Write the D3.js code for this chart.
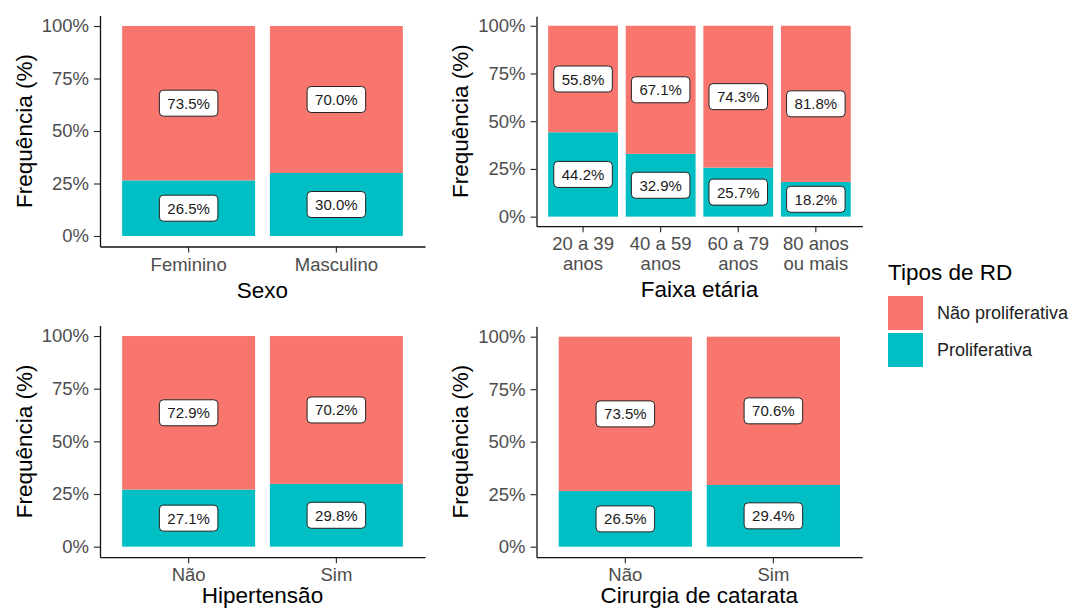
<!DOCTYPE html>
<html>
<head>
<meta charset="utf-8">
<script src="https://cdn.jsdelivr.net/npm/d3@7"></script>
<style>
  html, body { margin: 0; padding: 0; background: #fff; }
  svg { display: block; font-family: "Liberation Sans", Arial, sans-serif; }
</style>
</head>
<body>
<svg id="chart" width="1078" height="610"></svg>
<script>
// Proportions of diabetic retinopathy types by grouping variable
const seriesNames = ["Não proliferativa", "Proliferativa"];
const seriesColors = ["#F8766D", "#00BFC4"];
const yTicks = [0, 25, 50, 75, 100];

const sexoCats = ["Feminino", "Masculino"];
const sexoNaoProlif = [73.5, 70.0];
const sexoProlif = [26.5, 30.0];

const faixaCats = ["20 a 39|anos", "40 a 59|anos", "60 a 79|anos", "80 anos|ou mais"];
const faixaNaoProlif = [55.8, 67.1, 74.3, 81.8];
const faixaProlif = [44.2, 32.9, 25.7, 18.2];

const hipCats = ["Não", "Sim"];
const hipNaoProlif = [72.9, 70.2];
const hipProlif = [27.1, 29.8];

const catarataCats = ["Não", "Sim"];
const catarataNaoProlif = [73.5, 70.6];
const catarataProlif = [26.5, 29.4];

const svg = d3.select("#chart");

const panels = [
  { cats: sexoCats, nao: sexoNaoProlif, pro: sexoProlif, title: "Sexo",
    left: 100, right: 425, top: 15.5, bottom: 246.5, titleGap: 51 },
  { cats: faixaCats, nao: faixaNaoProlif, pro: faixaProlif, title: "Faixa etária",
    left: 536.5, right: 862.4, top: 16.2, bottom: 226.2, titleGap: 51 },
  { cats: hipCats, nao: hipNaoProlif, pro: hipProlif, title: "Hipertensão",
    left: 100, right: 425, top: 325.5, bottom: 557.2, titleGap: 46 },
  { cats: catarataCats, nao: catarataNaoProlif, pro: catarataProlif, title: "Cirurgia de catarata",
    left: 536.5, right: 862.2, top: 326.2, bottom: 557.2, titleGap: 46 }
];

function drawPanel(p) {
  const g = svg.append("g");
  const x = d3.scaleBand().domain(p.cats).range([p.left, p.right])
    .paddingInner(0.1).paddingOuter(0.15);
  const y = d3.scaleLinear().domain([-5, 105]).range([p.bottom, p.top]);

  // stacked segments: Proliferativa at bottom, Não proliferativa above
  const rows = p.cats.map((c, i) => ({ cat: c, pro: p.pro[i], nao: p.nao[i] }));
  const stack = d3.stack().keys(["pro", "nao"])(rows);
  const colorFor = { pro: seriesColors[1], nao: seriesColors[0] };

  stack.forEach(layer => {
    g.append("g").selectAll("rect").data(layer).join("rect")
      .attr("x", d => x(d.data.cat))
      .attr("width", x.bandwidth())
      .attr("y", d => y(d[1]))
      .attr("height", d => y(d[0]) - y(d[1]))
      .attr("fill", colorFor[layer.key]);
  });

  // value labels centred in each segment
  stack.forEach(layer => {
    layer.forEach(d => {
      const v = d.data[layer.key];
      const cx = x(d.data.cat) + x.bandwidth() / 2;
      const cy = y((d[0] + d[1]) / 2);
      const lg = g.append("g");
      const rect = lg.append("rect");
      const t = lg.append("text")
        .attr("x", cx).attr("y", cy)
        .attr("text-anchor", "middle")
        .attr("dominant-baseline", "central")
        .attr("font-size", 15)
        .attr("fill", "#1a1a1a")
        .text(v.toFixed(1) + "%");
      const w = t.node().getComputedTextLength() + 16;
      const h = 26;
      rect.attr("x", cx - w / 2).attr("y", cy - h / 2)
        .attr("width", w).attr("height", h)
        .attr("rx", 4).attr("ry", 4)
        .attr("fill", "#fff").attr("stroke", "#222").attr("stroke-width", 1);
    });
  });

  // y axis
  const ya = g.append("g").attr("transform", `translate(${p.left},0)`)
    .call(d3.axisLeft(y).tickValues(yTicks).tickFormat(d => d + "%")
      .tickSize(6).tickSizeOuter(0).tickPadding(5));
  ya.selectAll("text").attr("font-size", 18.5).attr("fill", "#4d4d4d")
    .attr("font-family", "Liberation Sans, Arial, sans-serif");
  ya.selectAll("line").attr("stroke", "#222").attr("stroke-width", 1.1);
  ya.select(".domain").attr("stroke", "#111").attr("stroke-width", 1.3);

  // x axis
  const xa = g.append("g").attr("transform", `translate(0,${p.bottom})`)
    .call(d3.axisBottom(x).tickSize(6).tickSizeOuter(0).tickFormat(""));
  xa.selectAll("line").attr("stroke", "#222").attr("stroke-width", 1.1);
  xa.select(".domain").attr("stroke", "#111").attr("stroke-width", 1.3);
  xa.selectAll(".tick").each(function(c) {
    const lines = c.split("|");
    const t = d3.select(this).append("text")
      .attr("text-anchor", "middle")
      .attr("font-size", 18.5)
      .attr("fill", "#4d4d4d")
      .attr("font-family", "Liberation Sans, Arial, sans-serif");
    lines.forEach((ln, i) => {
      t.append("tspan").attr("x", 0).attr("y", 24 + i * 19.5).text(ln);
    });
  });

  // axis titles
  const lineCount = d3.max(p.cats, c => c.split("|").length);
  g.append("text")
    .attr("x", (p.left + p.right) / 2)
    .attr("y", p.bottom + p.titleGap + (lineCount - 1) * 19.5)
    .attr("text-anchor", "middle")
    .attr("font-size", 22.5)
    .attr("fill", "#000")
    .text(p.title);

  g.append("text")
    .attr("transform", `translate(${p.left - 76},${(p.top + p.bottom) / 2}) rotate(-90)`)
    .attr("text-anchor", "middle")
    .attr("dominant-baseline", "central")
    .attr("font-size", 22.5)
    .attr("fill", "#000")
    .text("Frequência (%)");
}

panels.forEach(drawPanel);

// legend
const legend = svg.append("g");
legend.append("text").attr("x", 888).attr("y", 280)
  .attr("font-size", 22.5).attr("fill", "#000").text("Tipos de RD");
seriesNames.forEach((name, i) => {
  const ky = 296 + i * 37;
  legend.append("rect").attr("x", 888).attr("y", ky)
    .attr("width", 35).attr("height", 34).attr("fill", seriesColors[i]);
  legend.append("text").attr("x", 937).attr("y", ky + 17)
    .attr("dominant-baseline", "central")
    .attr("font-size", 18).attr("fill", "#222").text(name);
});
</script>
</body>
</html>
